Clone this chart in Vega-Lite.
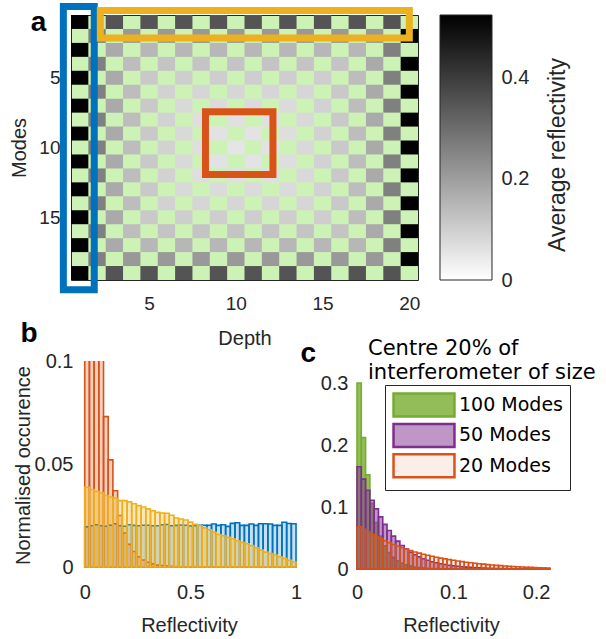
{
  "$schema": "https://vega.github.io/schema/vega-lite/v6.json",
  "background": "white",
  "padding": {"left": 9, "top": 2, "right": 5, "bottom": 5},
  "bounds": "flush",
  "spacing": 81,
  "config": {
    "font": "Liberation Sans",
    "view": {"stroke": null},
    "axis": {"labelFont": "Liberation Sans", "labelFontSize": 20, "labelColor": "#262626", "titleFont": "Liberation Sans", "titleFontSize": 20, "titleColor": "#262626", "titleFontWeight": "normal", "domain": false, "ticks": false, "tickSize": 0, "grid": false, "format": "~g"},
    "title": {"font": "Liberation Sans", "fontSize": 28, "fontWeight": "bold", "color": "#000000", "anchor": "start", "offset": 0}
  },
  "datasets": {
    "cells": [
      {"d":1,"m":1,"v":0.52},{"d":3,"m":1,"v":0.35},{"d":5,"m":1,"v":0.35},{"d":7,"m":1,"v":0.35},{"d":9,"m":1,"v":0.35},{"d":11,"m":1,"v":0.35},{"d":13,"m":1,"v":0.35},{"d":15,"m":1,"v":0.35},{"d":17,"m":1,"v":0.35},{"d":19,"m":1,"v":0.35},
      {"d":2,"m":2,"v":0.26},{"d":4,"m":2,"v":0.21},{"d":6,"m":2,"v":0.21},{"d":8,"m":2,"v":0.21},{"d":10,"m":2,"v":0.21},{"d":12,"m":2,"v":0.21},{"d":14,"m":2,"v":0.21},{"d":16,"m":2,"v":0.21},{"d":18,"m":2,"v":0.21},{"d":20,"m":2,"v":0.52},
      {"d":1,"m":3,"v":0.52},{"d":3,"m":3,"v":0.175},{"d":5,"m":3,"v":0.148},{"d":7,"m":3,"v":0.148},{"d":9,"m":3,"v":0.148},{"d":11,"m":3,"v":0.148},{"d":13,"m":3,"v":0.148},{"d":15,"m":3,"v":0.148},{"d":17,"m":3,"v":0.148},{"d":19,"m":3,"v":0.26},
      {"d":2,"m":4,"v":0.26},{"d":4,"m":4,"v":0.135},{"d":6,"m":4,"v":0.12},{"d":8,"m":4,"v":0.12},{"d":10,"m":4,"v":0.12},{"d":12,"m":4,"v":0.12},{"d":14,"m":4,"v":0.12},{"d":16,"m":4,"v":0.12},{"d":18,"m":4,"v":0.175},{"d":20,"m":4,"v":0.52},
      {"d":1,"m":5,"v":0.52},{"d":3,"m":5,"v":0.175},{"d":5,"m":5,"v":0.11},{"d":7,"m":5,"v":0.1},{"d":9,"m":5,"v":0.1},{"d":11,"m":5,"v":0.1},{"d":13,"m":5,"v":0.1},{"d":15,"m":5,"v":0.1},{"d":17,"m":5,"v":0.135},{"d":19,"m":5,"v":0.26},
      {"d":2,"m":6,"v":0.26},{"d":4,"m":6,"v":0.135},{"d":6,"m":6,"v":0.092},{"d":8,"m":6,"v":0.085},{"d":10,"m":6,"v":0.085},{"d":12,"m":6,"v":0.085},{"d":14,"m":6,"v":0.085},{"d":16,"m":6,"v":0.11},{"d":18,"m":6,"v":0.175},{"d":20,"m":6,"v":0.52},
      {"d":1,"m":7,"v":0.52},{"d":3,"m":7,"v":0.175},{"d":5,"m":7,"v":0.11},{"d":7,"m":7,"v":0.078},{"d":9,"m":7,"v":0.073},{"d":11,"m":7,"v":0.073},{"d":13,"m":7,"v":0.073},{"d":15,"m":7,"v":0.092},{"d":17,"m":7,"v":0.135},{"d":19,"m":7,"v":0.26},
      {"d":2,"m":8,"v":0.26},{"d":4,"m":8,"v":0.135},{"d":6,"m":8,"v":0.092},{"d":8,"m":8,"v":0.067},{"d":10,"m":8,"v":0.063},{"d":12,"m":8,"v":0.063},{"d":14,"m":8,"v":0.078},{"d":16,"m":8,"v":0.11},{"d":18,"m":8,"v":0.175},{"d":20,"m":8,"v":0.52},
      {"d":1,"m":9,"v":0.52},{"d":3,"m":9,"v":0.175},{"d":5,"m":9,"v":0.11},{"d":7,"m":9,"v":0.078},{"d":9,"m":9,"v":0.059},{"d":11,"m":9,"v":0.057},{"d":13,"m":9,"v":0.067},{"d":15,"m":9,"v":0.092},{"d":17,"m":9,"v":0.135},{"d":19,"m":9,"v":0.26},
      {"d":2,"m":10,"v":0.26},{"d":4,"m":10,"v":0.135},{"d":6,"m":10,"v":0.092},{"d":8,"m":10,"v":0.067},{"d":10,"m":10,"v":0.054},{"d":12,"m":10,"v":0.059},{"d":14,"m":10,"v":0.078},{"d":16,"m":10,"v":0.11},{"d":18,"m":10,"v":0.175},{"d":20,"m":10,"v":0.52},
      {"d":1,"m":11,"v":0.52},{"d":3,"m":11,"v":0.175},{"d":5,"m":11,"v":0.11},{"d":7,"m":11,"v":0.078},{"d":9,"m":11,"v":0.059},{"d":11,"m":11,"v":0.057},{"d":13,"m":11,"v":0.067},{"d":15,"m":11,"v":0.092},{"d":17,"m":11,"v":0.135},{"d":19,"m":11,"v":0.26},
      {"d":2,"m":12,"v":0.26},{"d":4,"m":12,"v":0.135},{"d":6,"m":12,"v":0.092},{"d":8,"m":12,"v":0.067},{"d":10,"m":12,"v":0.063},{"d":12,"m":12,"v":0.063},{"d":14,"m":12,"v":0.078},{"d":16,"m":12,"v":0.11},{"d":18,"m":12,"v":0.175},{"d":20,"m":12,"v":0.52},
      {"d":1,"m":13,"v":0.52},{"d":3,"m":13,"v":0.175},{"d":5,"m":13,"v":0.11},{"d":7,"m":13,"v":0.078},{"d":9,"m":13,"v":0.073},{"d":11,"m":13,"v":0.073},{"d":13,"m":13,"v":0.073},{"d":15,"m":13,"v":0.092},{"d":17,"m":13,"v":0.135},{"d":19,"m":13,"v":0.26},
      {"d":2,"m":14,"v":0.26},{"d":4,"m":14,"v":0.135},{"d":6,"m":14,"v":0.092},{"d":8,"m":14,"v":0.085},{"d":10,"m":14,"v":0.085},{"d":12,"m":14,"v":0.085},{"d":14,"m":14,"v":0.085},{"d":16,"m":14,"v":0.11},{"d":18,"m":14,"v":0.175},{"d":20,"m":14,"v":0.52},
      {"d":1,"m":15,"v":0.52},{"d":3,"m":15,"v":0.175},{"d":5,"m":15,"v":0.11},{"d":7,"m":15,"v":0.1},{"d":9,"m":15,"v":0.1},{"d":11,"m":15,"v":0.1},{"d":13,"m":15,"v":0.1},{"d":15,"m":15,"v":0.1},{"d":17,"m":15,"v":0.135},{"d":19,"m":15,"v":0.26},
      {"d":2,"m":16,"v":0.26},{"d":4,"m":16,"v":0.135},{"d":6,"m":16,"v":0.12},{"d":8,"m":16,"v":0.12},{"d":10,"m":16,"v":0.12},{"d":12,"m":16,"v":0.12},{"d":14,"m":16,"v":0.12},{"d":16,"m":16,"v":0.12},{"d":18,"m":16,"v":0.175},{"d":20,"m":16,"v":0.52},
      {"d":1,"m":17,"v":0.52},{"d":3,"m":17,"v":0.175},{"d":5,"m":17,"v":0.148},{"d":7,"m":17,"v":0.148},{"d":9,"m":17,"v":0.148},{"d":11,"m":17,"v":0.148},{"d":13,"m":17,"v":0.148},{"d":15,"m":17,"v":0.148},{"d":17,"m":17,"v":0.148},{"d":19,"m":17,"v":0.26},
      {"d":2,"m":18,"v":0.26},{"d":4,"m":18,"v":0.21},{"d":6,"m":18,"v":0.21},{"d":8,"m":18,"v":0.21},{"d":10,"m":18,"v":0.21},{"d":12,"m":18,"v":0.21},{"d":14,"m":18,"v":0.21},{"d":16,"m":18,"v":0.21},{"d":18,"m":18,"v":0.21},{"d":20,"m":18,"v":0.52},
      {"d":1,"m":19,"v":0.52},{"d":3,"m":19,"v":0.35},{"d":5,"m":19,"v":0.35},{"d":7,"m":19,"v":0.35},{"d":9,"m":19,"v":0.35},{"d":11,"m":19,"v":0.35},{"d":13,"m":19,"v":0.35},{"d":15,"m":19,"v":0.35},{"d":17,"m":19,"v":0.35},{"d":19,"m":19,"v":0.35}
    ],
    "boxes": [
      {"box":"column","x1":0.06,"x2":1.84,"y1":-0.11,"y2":20.2},
      {"box":"row","x1":2.19,"x2":20.0,"y1":0.18,"y2":2.15},
      {"box":"centre","x1":8.25,"x2":12.14,"y1":7.43,"y2":11.93}
    ],
    "binsB": [
      {"k":0,"lo":0,"hi":0.0222},{"k":1,"lo":0.0222,"hi":0.0444},{"k":2,"lo":0.0444,"hi":0.0667},{"k":3,"lo":0.0667,"hi":0.0889},{"k":4,"lo":0.0889,"hi":0.1111},
      {"k":5,"lo":0.1111,"hi":0.1333},{"k":6,"lo":0.1333,"hi":0.1556},{"k":7,"lo":0.1556,"hi":0.1778},{"k":8,"lo":0.1778,"hi":0.2},{"k":9,"lo":0.2,"hi":0.2222},
      {"k":10,"lo":0.2222,"hi":0.2444},{"k":11,"lo":0.2444,"hi":0.2667},{"k":12,"lo":0.2667,"hi":0.2889},{"k":13,"lo":0.2889,"hi":0.3111},{"k":14,"lo":0.3111,"hi":0.3333},
      {"k":15,"lo":0.3333,"hi":0.3556},{"k":16,"lo":0.3556,"hi":0.3778},{"k":17,"lo":0.3778,"hi":0.4},{"k":18,"lo":0.4,"hi":0.4222},{"k":19,"lo":0.4222,"hi":0.4444},
      {"k":20,"lo":0.4444,"hi":0.4667},{"k":21,"lo":0.4667,"hi":0.4889},{"k":22,"lo":0.4889,"hi":0.5111},{"k":23,"lo":0.5111,"hi":0.5333},{"k":24,"lo":0.5333,"hi":0.5556},
      {"k":25,"lo":0.5556,"hi":0.5778},{"k":26,"lo":0.5778,"hi":0.6},{"k":27,"lo":0.6,"hi":0.6222},{"k":28,"lo":0.6222,"hi":0.6444},{"k":29,"lo":0.6444,"hi":0.6667},
      {"k":30,"lo":0.6667,"hi":0.6889},{"k":31,"lo":0.6889,"hi":0.7111},{"k":32,"lo":0.7111,"hi":0.7333},{"k":33,"lo":0.7333,"hi":0.7556},{"k":34,"lo":0.7556,"hi":0.7778},
      {"k":35,"lo":0.7778,"hi":0.8},{"k":36,"lo":0.8,"hi":0.8222},{"k":37,"lo":0.8222,"hi":0.8444},{"k":38,"lo":0.8444,"hi":0.8667},{"k":39,"lo":0.8667,"hi":0.8889},
      {"k":40,"lo":0.8889,"hi":0.9111},{"k":41,"lo":0.9111,"hi":0.9333},{"k":42,"lo":0.9333,"hi":0.9556},{"k":43,"lo":0.9556,"hi":0.9778},{"k":44,"lo":0.9778,"hi":1}
    ],
    "binsC": [
      {"k":0,"lo":0,"hi":0.00444},{"k":1,"lo":0.00444,"hi":0.00889},{"k":2,"lo":0.00889,"hi":0.01333},{"k":3,"lo":0.01333,"hi":0.01778},{"k":4,"lo":0.01778,"hi":0.02222},
      {"k":5,"lo":0.02222,"hi":0.02667},{"k":6,"lo":0.02667,"hi":0.03111},{"k":7,"lo":0.03111,"hi":0.03556},{"k":8,"lo":0.03556,"hi":0.04},{"k":9,"lo":0.04,"hi":0.04444},
      {"k":10,"lo":0.04444,"hi":0.04889},{"k":11,"lo":0.04889,"hi":0.05333},{"k":12,"lo":0.05333,"hi":0.05778},{"k":13,"lo":0.05778,"hi":0.06222},{"k":14,"lo":0.06222,"hi":0.06667},
      {"k":15,"lo":0.06667,"hi":0.07111},{"k":16,"lo":0.07111,"hi":0.07556},{"k":17,"lo":0.07556,"hi":0.08},{"k":18,"lo":0.08,"hi":0.08444},{"k":19,"lo":0.08444,"hi":0.08889},
      {"k":20,"lo":0.08889,"hi":0.09333},{"k":21,"lo":0.09333,"hi":0.09778},{"k":22,"lo":0.09778,"hi":0.10222},{"k":23,"lo":0.10222,"hi":0.10667},{"k":24,"lo":0.10667,"hi":0.11111},
      {"k":25,"lo":0.11111,"hi":0.11556},{"k":26,"lo":0.11556,"hi":0.12},{"k":27,"lo":0.12,"hi":0.12444},{"k":28,"lo":0.12444,"hi":0.12889},{"k":29,"lo":0.12889,"hi":0.13333},
      {"k":30,"lo":0.13333,"hi":0.13778},{"k":31,"lo":0.13778,"hi":0.14222},{"k":32,"lo":0.14222,"hi":0.14667},{"k":33,"lo":0.14667,"hi":0.15111},{"k":34,"lo":0.15111,"hi":0.15556},
      {"k":35,"lo":0.15556,"hi":0.16},{"k":36,"lo":0.16,"hi":0.16444},{"k":37,"lo":0.16444,"hi":0.16889},{"k":38,"lo":0.16889,"hi":0.17333},{"k":39,"lo":0.17333,"hi":0.17778},
      {"k":40,"lo":0.17778,"hi":0.18222},{"k":41,"lo":0.18222,"hi":0.18667},{"k":42,"lo":0.18667,"hi":0.19111},{"k":43,"lo":0.19111,"hi":0.19556},{"k":44,"lo":0.19556,"hi":0.2}
    ],
    "hb": [
      {"s":"col","k":0,"v":0.0195},{"s":"col","k":1,"v":0.02},{"s":"col","k":2,"v":0.0205},{"s":"col","k":3,"v":0.02},{"s":"col","k":4,"v":0.0198},
      {"s":"col","k":5,"v":0.0203},{"s":"col","k":6,"v":0.021},{"s":"col","k":7,"v":0.02},{"s":"col","k":8,"v":0.0198},{"s":"col","k":9,"v":0.0205},
      {"s":"col","k":10,"v":0.0202},{"s":"col","k":11,"v":0.02},{"s":"col","k":12,"v":0.0203},{"s":"col","k":13,"v":0.0203},{"s":"col","k":14,"v":0.02},
      {"s":"col","k":15,"v":0.02},{"s":"col","k":16,"v":0.0205},{"s":"col","k":17,"v":0.0206},{"s":"col","k":18,"v":0.02},{"s":"col","k":19,"v":0.0202},
      {"s":"col","k":20,"v":0.0204},{"s":"col","k":21,"v":0.0203},{"s":"col","k":22,"v":0.0199},{"s":"col","k":23,"v":0.02},{"s":"col","k":24,"v":0.0203},
      {"s":"col","k":25,"v":0.0203},{"s":"col","k":26,"v":0.0203},{"s":"col","k":27,"v":0.0209},{"s":"col","k":28,"v":0.0202},{"s":"col","k":29,"v":0.0205},
      {"s":"col","k":30,"v":0.0197},{"s":"col","k":31,"v":0.0212},{"s":"col","k":32,"v":0.0215},{"s":"col","k":33,"v":0.0202},{"s":"col","k":34,"v":0.0202},
      {"s":"col","k":35,"v":0.0209},{"s":"col","k":36,"v":0.0202},{"s":"col","k":37,"v":0.021},{"s":"col","k":38,"v":0.021},{"s":"col","k":39,"v":0.0209},
      {"s":"col","k":40,"v":0.0202},{"s":"col","k":41,"v":0.0202},{"s":"col","k":42,"v":0.0217},{"s":"col","k":43,"v":0.0211},{"s":"col","k":44,"v":0.021},
      {"s":"centre","k":0,"v":0.17},{"s":"centre","k":1,"v":0.2},{"s":"centre","k":2,"v":0.19},{"s":"centre","k":3,"v":0.15},{"s":"centre","k":4,"v":0.073},
      {"s":"centre","k":5,"v":0.052},{"s":"centre","k":6,"v":0.037},{"s":"centre","k":7,"v":0.025},{"s":"centre","k":8,"v":0.0165},{"s":"centre","k":9,"v":0.011},
      {"s":"centre","k":10,"v":0.0075},{"s":"centre","k":11,"v":0.005},{"s":"centre","k":12,"v":0.0034},{"s":"centre","k":13,"v":0.0023},{"s":"centre","k":14,"v":0.0015},
      {"s":"centre","k":15,"v":0.001},{"s":"centre","k":16,"v":0.0007},{"s":"centre","k":17,"v":0.0005},{"s":"centre","k":18,"v":0.0003},{"s":"centre","k":19,"v":0.0002},
      {"s":"centre","k":20,"v":0.0001},{"s":"centre","k":21,"v":0.0001},{"s":"centre","k":22,"v":0.0001},{"s":"centre","k":23,"v":0.0001},{"s":"centre","k":24,"v":0.0001},
      {"s":"centre","k":25,"v":0.0001},{"s":"centre","k":26,"v":0.0001},{"s":"centre","k":27,"v":0.0001},{"s":"centre","k":28,"v":0.0001},{"s":"centre","k":29,"v":0.0001},
      {"s":"centre","k":30,"v":0.0001},{"s":"centre","k":31,"v":0.0001},{"s":"centre","k":32,"v":0.0001},{"s":"centre","k":33,"v":0.0001},{"s":"centre","k":34,"v":0.0001},
      {"s":"centre","k":35,"v":0.0001},{"s":"centre","k":36,"v":0.0001},{"s":"centre","k":37,"v":0.0001},{"s":"centre","k":38,"v":0.0001},{"s":"centre","k":39,"v":0.0001},
      {"s":"centre","k":40,"v":0.0001},{"s":"centre","k":41,"v":0.0001},{"s":"centre","k":42,"v":0.0001},{"s":"centre","k":43,"v":0.0001},{"s":"centre","k":44,"v":0.0001},
      {"s":"row","k":0,"v":0.0387},{"s":"row","k":1,"v":0.0376},{"s":"row","k":2,"v":0.0367},{"s":"row","k":3,"v":0.036},{"s":"row","k":4,"v":0.0347},
      {"s":"row","k":5,"v":0.034},{"s":"row","k":6,"v":0.0334},{"s":"row","k":7,"v":0.0322},{"s":"row","k":8,"v":0.0322},{"s":"row","k":9,"v":0.0316},
      {"s":"row","k":10,"v":0.0307},{"s":"row","k":11,"v":0.0298},{"s":"row","k":12,"v":0.0291},{"s":"row","k":13,"v":0.0282},{"s":"row","k":14,"v":0.0273},
      {"s":"row","k":15,"v":0.0265},{"s":"row","k":16,"v":0.0262},{"s":"row","k":17,"v":0.0261},{"s":"row","k":18,"v":0.0251},{"s":"row","k":19,"v":0.0238},
      {"s":"row","k":20,"v":0.0233},{"s":"row","k":21,"v":0.0228},{"s":"row","k":22,"v":0.0218},{"s":"row","k":23,"v":0.0207},{"s":"row","k":24,"v":0.02},
      {"s":"row","k":25,"v":0.019},{"s":"row","k":26,"v":0.0181},{"s":"row","k":27,"v":0.0168},{"s":"row","k":28,"v":0.0158},{"s":"row","k":29,"v":0.0152},
      {"s":"row","k":30,"v":0.0144},{"s":"row","k":31,"v":0.0137},{"s":"row","k":32,"v":0.0127},{"s":"row","k":33,"v":0.0119},{"s":"row","k":34,"v":0.0113},
      {"s":"row","k":35,"v":0.0104},{"s":"row","k":36,"v":0.0093},{"s":"row","k":37,"v":0.0082},{"s":"row","k":38,"v":0.0072},{"s":"row","k":39,"v":0.0065},
      {"s":"row","k":40,"v":0.0058},{"s":"row","k":41,"v":0.005},{"s":"row","k":42,"v":0.0042},{"s":"row","k":43,"v":0.0032},{"s":"row","k":44,"v":0.0024}
    ],
    "hc": [
      {"s":"100 Modes","k":0,"v":0.3},{"s":"100 Modes","k":1,"v":0.212},{"s":"100 Modes","k":2,"v":0.152},{"s":"100 Modes","k":3,"v":0.106},{"s":"100 Modes","k":4,"v":0.075},
      {"s":"100 Modes","k":5,"v":0.053},{"s":"100 Modes","k":6,"v":0.0375},{"s":"100 Modes","k":7,"v":0.0265},{"s":"100 Modes","k":8,"v":0.0187},{"s":"100 Modes","k":9,"v":0.0132},
      {"s":"100 Modes","k":10,"v":0.0094},{"s":"100 Modes","k":11,"v":0.0066},{"s":"100 Modes","k":12,"v":0.0047},{"s":"100 Modes","k":13,"v":0.0033},{"s":"100 Modes","k":14,"v":0.0023},
      {"s":"100 Modes","k":15,"v":0.0017},{"s":"100 Modes","k":16,"v":0.0012},{"s":"100 Modes","k":17,"v":0.0008},{"s":"100 Modes","k":18,"v":0.0006},{"s":"100 Modes","k":19,"v":0.0004},
      {"s":"100 Modes","k":20,"v":0.0003},{"s":"100 Modes","k":21,"v":0.0002},{"s":"100 Modes","k":22,"v":0.0002},{"s":"100 Modes","k":23,"v":0.0001},{"s":"100 Modes","k":24,"v":0.0001},
      {"s":"100 Modes","k":25,"v":0},{"s":"100 Modes","k":26,"v":0},{"s":"100 Modes","k":27,"v":0},{"s":"100 Modes","k":28,"v":0},{"s":"100 Modes","k":29,"v":0},
      {"s":"100 Modes","k":30,"v":0},{"s":"100 Modes","k":31,"v":0},{"s":"100 Modes","k":32,"v":0},{"s":"100 Modes","k":33,"v":0},{"s":"100 Modes","k":34,"v":0},
      {"s":"100 Modes","k":35,"v":0},{"s":"100 Modes","k":36,"v":0},{"s":"100 Modes","k":37,"v":0},{"s":"100 Modes","k":38,"v":0},{"s":"100 Modes","k":39,"v":0},
      {"s":"100 Modes","k":40,"v":0},{"s":"100 Modes","k":41,"v":0},{"s":"100 Modes","k":42,"v":0},{"s":"100 Modes","k":43,"v":0},{"s":"100 Modes","k":44,"v":0},
      {"s":"50 Modes","k":0,"v":0.165},{"s":"50 Modes","k":1,"v":0.145},{"s":"50 Modes","k":2,"v":0.127},{"s":"50 Modes","k":3,"v":0.111},{"s":"50 Modes","k":4,"v":0.097},
      {"s":"50 Modes","k":5,"v":0.084},{"s":"50 Modes","k":6,"v":0.072},{"s":"50 Modes","k":7,"v":0.062},{"s":"50 Modes","k":8,"v":0.053},{"s":"50 Modes","k":9,"v":0.045},
      {"s":"50 Modes","k":10,"v":0.038},{"s":"50 Modes","k":11,"v":0.032},{"s":"50 Modes","k":12,"v":0.027},{"s":"50 Modes","k":13,"v":0.023},{"s":"50 Modes","k":14,"v":0.0195},
      {"s":"50 Modes","k":15,"v":0.0165},{"s":"50 Modes","k":16,"v":0.014},{"s":"50 Modes","k":17,"v":0.0118},{"s":"50 Modes","k":18,"v":0.01},{"s":"50 Modes","k":19,"v":0.0085},
      {"s":"50 Modes","k":20,"v":0.0072},{"s":"50 Modes","k":21,"v":0.0061},{"s":"50 Modes","k":22,"v":0.0052},{"s":"50 Modes","k":23,"v":0.0044},{"s":"50 Modes","k":24,"v":0.0037},
      {"s":"50 Modes","k":25,"v":0.0031},{"s":"50 Modes","k":26,"v":0.0026},{"s":"50 Modes","k":27,"v":0.0022},{"s":"50 Modes","k":28,"v":0.0019},{"s":"50 Modes","k":29,"v":0.0016},
      {"s":"50 Modes","k":30,"v":0.0013},{"s":"50 Modes","k":31,"v":0.0011},{"s":"50 Modes","k":32,"v":0.0009},{"s":"50 Modes","k":33,"v":0.0008},{"s":"50 Modes","k":34,"v":0.0007},
      {"s":"50 Modes","k":35,"v":0.0006},{"s":"50 Modes","k":36,"v":0.0005},{"s":"50 Modes","k":37,"v":0.0004},{"s":"50 Modes","k":38,"v":0.0003},{"s":"50 Modes","k":39,"v":0.0003},
      {"s":"50 Modes","k":40,"v":0.0002},{"s":"50 Modes","k":41,"v":0.0002},{"s":"50 Modes","k":42,"v":0.0002},{"s":"50 Modes","k":43,"v":0.0001},{"s":"50 Modes","k":44,"v":0.0001},
      {"s":"20 Modes","k":0,"v":0.068},{"s":"20 Modes","k":1,"v":0.064},{"s":"20 Modes","k":2,"v":0.06},{"s":"20 Modes","k":3,"v":0.056},{"s":"20 Modes","k":4,"v":0.0525},
      {"s":"20 Modes","k":5,"v":0.049},{"s":"20 Modes","k":6,"v":0.0455},{"s":"20 Modes","k":7,"v":0.0425},{"s":"20 Modes","k":8,"v":0.0395},{"s":"20 Modes","k":9,"v":0.0368},
      {"s":"20 Modes","k":10,"v":0.0342},{"s":"20 Modes","k":11,"v":0.0318},{"s":"20 Modes","k":12,"v":0.0296},{"s":"20 Modes","k":13,"v":0.0275},{"s":"20 Modes","k":14,"v":0.0256},
      {"s":"20 Modes","k":15,"v":0.0238},{"s":"20 Modes","k":16,"v":0.0221},{"s":"20 Modes","k":17,"v":0.0205},{"s":"20 Modes","k":18,"v":0.019},{"s":"20 Modes","k":19,"v":0.0176},
      {"s":"20 Modes","k":20,"v":0.0163},{"s":"20 Modes","k":21,"v":0.0151},{"s":"20 Modes","k":22,"v":0.014},{"s":"20 Modes","k":23,"v":0.0129},{"s":"20 Modes","k":24,"v":0.0119},
      {"s":"20 Modes","k":25,"v":0.011},{"s":"20 Modes","k":26,"v":0.0101},{"s":"20 Modes","k":27,"v":0.0093},{"s":"20 Modes","k":28,"v":0.0085},{"s":"20 Modes","k":29,"v":0.0078},
      {"s":"20 Modes","k":30,"v":0.0071},{"s":"20 Modes","k":31,"v":0.0065},{"s":"20 Modes","k":32,"v":0.0059},{"s":"20 Modes","k":33,"v":0.0054},{"s":"20 Modes","k":34,"v":0.0049},
      {"s":"20 Modes","k":35,"v":0.0044},{"s":"20 Modes","k":36,"v":0.004},{"s":"20 Modes","k":37,"v":0.0036},{"s":"20 Modes","k":38,"v":0.0032},{"s":"20 Modes","k":39,"v":0.0029},
      {"s":"20 Modes","k":40,"v":0.0026},{"s":"20 Modes","k":41,"v":0.0023},{"s":"20 Modes","k":42,"v":0.002},{"s":"20 Modes","k":43,"v":0.0018},{"s":"20 Modes","k":44,"v":0.0016}
    ]
  },
  "vconcat": [
    {
      "width": 347,
      "height": 265,
      "title": {"text": "a", "frame": "bounds", "dx": 21, "dy": 38},
      "view": {"fill": "#cdf2b5", "stroke": "#262626", "strokeWidth": 1},
      "layer": [
        {
          "data": {"name": "cells"},
          "mark": {"type": "rect"},
          "encoding": {
            "x": {"field": "d", "type": "ordinal", "scale": {"domain": [1,2,3,4,5,6,7,8,9,10,11,12,13,14,15,16,17,18,19,20], "paddingInner": 0, "paddingOuter": 0}, "axis": null},
            "y": {"field": "m", "type": "ordinal", "scale": {"domain": [1,2,3,4,5,6,7,8,9,10,11,12,13,14,15,16,17,18,19], "paddingInner": 0, "paddingOuter": 0}, "axis": null},
            "color": {"field": "v", "type": "quantitative", "scale": {"domain": [0, 0.523], "range": ["#ffffff", "#000000"], "interpolate": "rgb"}, "legend": null}
          }
        },
        {
          "data": {"name": "boxes"},
          "mark": {"type": "rect", "filled": false, "strokeWidth": 7, "clip": false},
          "encoding": {
            "x": {"field": "x1", "type": "quantitative", "scale": {"domain": [0.5, 20.5], "nice": false, "zero": false}, "axis": {"orient": "bottom", "values": [5, 10, 15, 20], "title": "Depth", "labelFontSize": 19, "labelPadding": 14, "titlePadding": 15}},
            "x2": {"field": "x2"},
            "y": {"field": "y1", "type": "quantitative", "scale": {"domain": [0.5, 19.5], "reverse": true, "nice": false, "zero": false}, "axis": {"orient": "left", "values": [5, 10, 15], "title": "Modes", "labelFontSize": 19, "labelPadding": 11, "titlePadding": 9}},
            "y2": {"field": "y2"},
            "stroke": {"field": "box", "type": "nominal", "scale": {"domain": ["column", "row", "centre"], "range": ["#0072bd", "#edb120", "#d95319"]}, "legend": null}
          }
        },
        {
          "data": {"values": [{"lo": 0, "hi": 0.523}]},
          "mark": {"type": "rect", "clip": false, "stroke": "#262626", "strokeWidth": 1, "color": {"gradient": "linear", "x1": 0, "y1": 1, "x2": 0, "y2": 0, "stops": [{"offset": 0, "color": "#ffffff"}, {"offset": 1, "color": "#000000"}]}},
          "encoding": {
            "x": {"datum": 21.768, "type": "quantitative", "scale": {"domain": [0.5, 20.5], "nice": false, "zero": false}, "axis": null},
            "x2": {"datum": 24.765},
            "y": {"field": "lo", "type": "quantitative", "scale": {"domain": [0, 0.523], "nice": false}, "axis": {"orient": "right", "offset": 74, "values": [0, 0.2, 0.4], "title": "Average reflectivity", "titleFontSize": 23, "titleAngle": 270, "titleBaseline": "top", "titleAlign": "center", "titleY": 139.5, "labelPadding": 9, "titlePadding": 18}},
            "y2": {"field": "hi"}
          }
        }
      ],
      "resolve": {"scale": {"x": "independent", "y": "independent"}, "axis": {"x": "independent", "y": "independent"}}
    },
    {
      "width": 479,
      "height": 208,
      "title": {"text": "b", "frame": "bounds", "dx": 7, "dy": 14},
      "layer": [
        {
          "data": {"name": "hb"},
          "transform": [{"lookup": "k", "from": {"data": {"name": "binsB"}, "key": "k", "fields": ["lo", "hi"]}}],
          "mark": {"type": "rect", "strokeWidth": 1.6, "clip": true},
          "encoding": {
            "x": {"field": "lo", "type": "quantitative", "scale": {"domain": [-0.065, 2.202], "nice": false, "zero": false}, "axis": {"orient": "bottom", "values": [0, 0.5, 1], "title": "Reflectivity", "labelPadding": 13, "titlePadding": 13, "titleX": 118}},
            "x2": {"field": "hi"},
            "y": {"field": "v", "type": "quantitative", "scale": {"domain": [-0.00097, 0.1], "nice": false, "zero": false}, "axis": {"orient": "left", "values": [0, 0.05, 0.1], "title": "Normalised occurence", "labelPadding": -2, "titlePadding": 0.5}},
            "y2": {"datum": 0},
            "fill": {"field": "s", "type": "nominal", "scale": {"domain": ["col", "centre", "row"], "range": ["rgba(0,114,189,0.22)", "rgba(217,83,25,0.27)", "rgba(237,177,32,0.3)"]}, "legend": null},
            "stroke": {"field": "s", "type": "nominal", "scale": {"domain": ["col", "centre", "row"], "range": ["#0072bd", "#d95319", "#edb120"]}, "legend": null}
          }
        },
        {
          "layer": [
            {
              "data": {"name": "hc"},
              "transform": [{"lookup": "k", "from": {"data": {"name": "binsC"}, "key": "k", "fields": ["lo", "hi"]}}],
              "mark": {"type": "rect", "strokeWidth": 1.6},
              "encoding": {
                "x": {"field": "lo", "type": "quantitative", "scale": {"domain": [-0.2964, 0.2], "nice": false, "zero": false}, "axis": {"orient": "bottom", "values": [0, 0.1, 0.2], "title": "Reflectivity", "labelPadding": 13, "titlePadding": 13, "titleX": 380}},
                "x2": {"field": "hi"},
                "y": {"field": "v", "type": "quantitative", "scale": {"domain": [0, 0.3355], "nice": false}, "axis": {"orient": "left", "offset": -286, "values": [0, 0.1, 0.2, 0.3], "title": "c", "titleAngle": 0, "titleX": -57, "titleY": 0, "titleAlign": "left", "titleBaseline": "alphabetic", "titleFontSize": 28, "titleFontWeight": "bold", "titleColor": "#000000", "labelPadding": 9}},
                "y2": {"datum": 0},
                "fill": {"field": "s", "type": "nominal", "scale": {"domain": ["100 Modes", "50 Modes", "20 Modes"], "range": ["rgba(119,172,48,0.8)", "rgba(126,47,142,0.5)", "rgba(217,83,25,0.1)"]},
                  "legend": {"orient": "none", "legendX": 314, "legendY": 24, "title": null, "strokeColor": "#262626", "fillColor": "#ffffff", "padding": 7, "symbolType": "M-2.65,-1H2.65V1H-2.65Z", "symbolSize": 529, "symbolStrokeWidth": 2.5, "symbolOffset": 19, "labelOffset": 22, "labelFont": "DejaVu Sans", "labelFontSize": 19, "labelColor": "#000000", "rowPadding": -3.6, "labelLimit": 300}},
                "stroke": {"field": "s", "type": "nominal", "scale": {"domain": ["100 Modes", "50 Modes", "20 Modes"], "range": ["#77ac30", "#7e2f8e", "#d95319"]}, "legend": null}
              }
            },
            {
              "data": {"values": [{"caption": "centre"}]},
              "mark": {"type": "text", "align": "left", "baseline": "alphabetic", "font": "DejaVu Sans", "fontSize": 21, "color": "#000000", "lineHeight": 24.5, "clip": false},
              "encoding": {
                "x": {"datum": 0.0114},
                "y": {"datum": 0.3452},
                "text": {"value": ["Centre 20% of", "interferometer of size"]}
              }
            }
          ]
        }
      ],
      "resolve": {"scale": {"x": "independent", "y": "independent", "fill": "independent", "stroke": "independent"}, "axis": {"x": "independent", "y": "independent"}, "legend": {"fill": "independent", "stroke": "independent"}}
    }
  ]
}
